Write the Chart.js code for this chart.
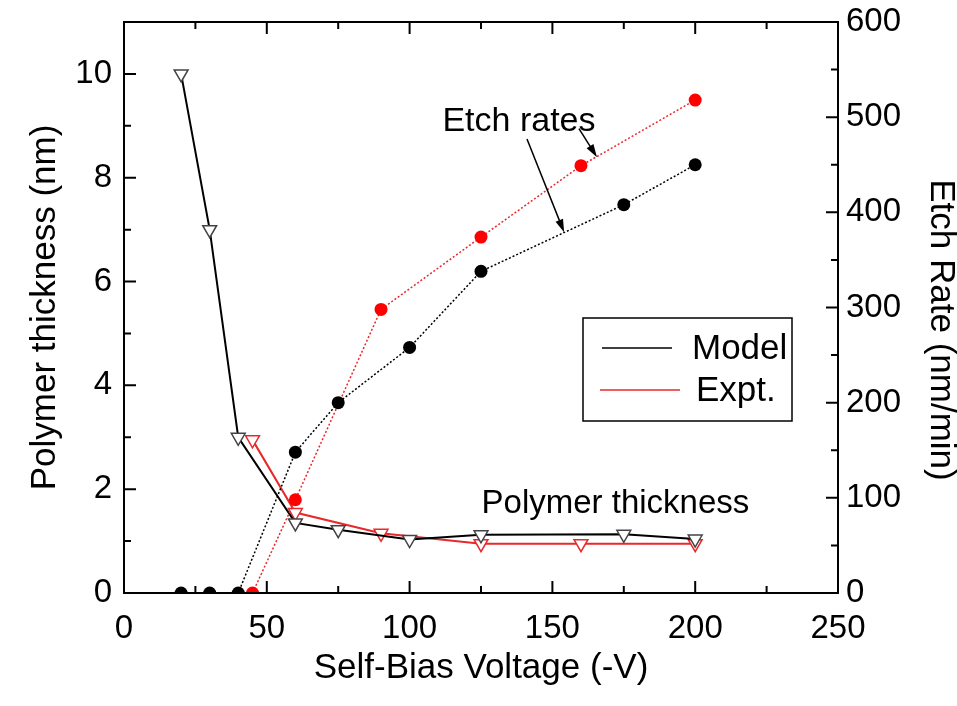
<!DOCTYPE html>
<html>
<head>
<meta charset="utf-8">
<script src="https://cdn.jsdelivr.net/npm/chart.js@4"></script>
<style>
  html, body { margin: 0; padding: 0; background: #fff; }
</style>
</head>
<body>
<canvas id="chart0" width="957" height="706"></canvas>
<script>
// bias voltage (-V) and values
const modelThickX = [20, 30, 40, 60, 75, 100, 125, 175, 200];
const modelThickY = [10, 7, 3, 1.35, 1.22, 1.03, 1.12, 1.13, 1.04];
const exptThickX = [45, 60, 90, 125, 160, 200];
const exptThickY = [2.95, 1.55, 1.15, 0.95, 0.95, 0.95];
const modelEtchX = [20, 30, 40, 60, 75, 100, 125, 175, 200];
const modelEtchY = [0, 0, 0, 148, 200, 258, 338, 408, 450];
const exptEtchX = [45, 60, 90, 125, 160, 200];
const exptEtchY = [0, 98, 298, 374, 449, 518];

const legendLabels = ["Model", "Expt."];
const legendColors = ["#000000", "#e8282b"];

// notes on the plot, in data units (x, right axis for etch, left axis for polymer)
const noteEtch = { text: "Etch rates", x: 111.5, y: 495 };
const notePolymer = { text: "Polymer thickness", x: 125.2, y: 1.71 };
const etchArrows = [
  { x0: 141.1, y0: 477, x1: 154.1, y1: 379 },
  { x0: 159.3, y0: 488, x1: 165.6, y1: 458 },
];

const FONT = "'Liberation Sans', Arial, sans-serif";
const RED = "#e8282b";

function pts(xs, ys) {
  return xs.map((x, i) => ({ x: x, y: ys[i] }));
}

// ticks pointing into the plot, plus the frame
const frameTicks = {
  id: "frameTicks",
  afterDatasetsDraw(chart) {
    const ctx = chart.ctx;
    const a = chart.chartArea;
    const sx = chart.scales.x, sy = chart.scales.y, sy2 = chart.scales.y2;
    ctx.save();
    ctx.strokeStyle = "#000";
    ctx.lineWidth = 2;
    ctx.strokeRect(a.left, a.top, a.right - a.left, a.bottom - a.top);
    ctx.beginPath();
    sx.ticks.forEach((t) => {
      const p = sx.getPixelForValue(t.value);
      const len = t.value % 50 === 0 ? 12 : 7;
      ctx.moveTo(p, a.bottom); ctx.lineTo(p, a.bottom - len);
      ctx.moveTo(p, a.top); ctx.lineTo(p, a.top + len);
    });
    sy.ticks.forEach((t) => {
      const p = sy.getPixelForValue(t.value);
      const len = t.value % 2 === 0 ? 12 : 7;
      ctx.moveTo(a.left, p); ctx.lineTo(a.left + len, p);
    });
    sy2.ticks.forEach((t) => {
      const p = sy2.getPixelForValue(t.value);
      const len = t.value % 100 === 0 ? 12 : 7;
      ctx.moveTo(a.right, p); ctx.lineTo(a.right - len, p);
    });
    ctx.stroke();

    // right axis title
    ctx.fillStyle = "#000";
    ctx.font = "35px " + FONT;
    ctx.textAlign = "center";
    ctx.textBaseline = "middle";
    ctx.translate(941, 330);
    ctx.rotate(Math.PI / 2);
    ctx.fillText("Etch Rate (nm/min)", 0, 0);
    ctx.restore();
  },
};

// text notes, arrows and the boxed legend
const notes = {
  id: "notes",
  afterDatasetsDraw(chart) {
    const ctx = chart.ctx;
    const sx = chart.scales.x, sy = chart.scales.y, sy2 = chart.scales.y2;
    ctx.save();
    ctx.fillStyle = "#000";
    ctx.textAlign = "left";
    ctx.textBaseline = "middle";
    ctx.font = "34px " + FONT;
    ctx.fillText(noteEtch.text, sx.getPixelForValue(noteEtch.x), sy2.getPixelForValue(noteEtch.y));
    ctx.font = "33px " + FONT;
    ctx.fillText(notePolymer.text, sx.getPixelForValue(notePolymer.x), sy.getPixelForValue(notePolymer.y));

    ctx.strokeStyle = "#000";
    ctx.lineWidth = 1.5;
    etchArrows.forEach((ar) => {
      const x0 = sx.getPixelForValue(ar.x0), y0 = sy2.getPixelForValue(ar.y0);
      const x1 = sx.getPixelForValue(ar.x1), y1 = sy2.getPixelForValue(ar.y1);
      const ang = Math.atan2(y1 - y0, x1 - x0);
      ctx.beginPath();
      ctx.moveTo(x0, y0);
      ctx.lineTo(x1 - 8 * Math.cos(ang), y1 - 8 * Math.sin(ang));
      ctx.stroke();
      ctx.beginPath();
      ctx.moveTo(x1, y1);
      ctx.lineTo(x1 - 13 * Math.cos(ang) + 4 * Math.sin(ang), y1 - 13 * Math.sin(ang) - 4 * Math.cos(ang));
      ctx.lineTo(x1 - 13 * Math.cos(ang) - 4 * Math.sin(ang), y1 - 13 * Math.sin(ang) + 4 * Math.cos(ang));
      ctx.closePath();
      ctx.fill();
    });

    // legend box
    ctx.lineWidth = 1.5;
    ctx.strokeRect(583, 318, 209, 103);
    ctx.font = "35px " + FONT;
    legendLabels.forEach((lab, i) => {
      const y = 348 + i * 42;
      ctx.strokeStyle = legendColors[i];
      ctx.lineWidth = 1.5;
      ctx.beginPath();
      ctx.moveTo(i === 0 ? 602 : 600, y);
      ctx.lineTo(i === 0 ? 672 : 680, y);
      ctx.stroke();
      ctx.fillStyle = "#000";
      ctx.fillText(lab, i === 0 ? 692 : 696, y + 1);
    });
    ctx.restore();
  },
};

const ctx = document.getElementById("chart0").getContext("2d");
const myChart = new Chart(ctx, {
  type: "line",
  data: {
    datasets: [
      {
        label: "Model etch rate",
        data: pts(modelEtchX, modelEtchY),
        yAxisID: "y2",
        borderColor: "#000",
        borderWidth: 1.5,
        borderDash: [2, 2],
        pointRadius: 6.5,
        pointBackgroundColor: "#000",
        pointBorderWidth: 0,
      },
      {
        label: "Expt. etch rate",
        data: pts(exptEtchX, exptEtchY),
        yAxisID: "y2",
        borderColor: RED,
        borderWidth: 1.5,
        borderDash: [2, 2],
        pointRadius: 6.5,
        pointBackgroundColor: "#f00",
        pointBorderWidth: 0,
      },
      {
        label: "Model thickness",
        data: pts(modelThickX, modelThickY),
        yAxisID: "y",
        borderColor: "#000",
        borderWidth: 2,
        pointStyle: "triangle",
        rotation: 180,
        pointRadius: 8,
        pointBackgroundColor: "#fff",
        pointBorderColor: "#444",
        pointBorderWidth: 1.5,
      },
      {
        label: "Expt. thickness",
        data: pts(exptThickX, exptThickY),
        yAxisID: "y",
        borderColor: RED,
        borderWidth: 2,
        pointStyle: "triangle",
        rotation: 180,
        pointRadius: 8,
        pointBackgroundColor: "#fff",
        pointBorderColor: RED,
        pointBorderWidth: 1.5,
      },
    ],
  },
  options: {
    responsive: false,
    animation: false,
    devicePixelRatio: 1,
    layout: { padding: { top: 22, left: 0, right: 0, bottom: 0 } },
    plugins: { legend: { display: false }, tooltip: { enabled: false } },
    scales: {
      x: {
        type: "linear",
        position: "bottom",
        min: 0,
        max: 250,
        afterFit(s) { s.height = 113; },
        grid: { display: false, drawTicks: false },
        border: { display: false },
        ticks: {
          stepSize: 25,
          autoSkip: false,
          maxRotation: 0,
          padding: 16,
          color: "#000",
          font: { size: 33, family: FONT },
          callback: (v) => (v % 50 === 0 ? v : ""),
        },
        title: {
          display: true,
          text: "Self-Bias Voltage (-V)",
          color: "#000",
          font: { size: 35, family: FONT },
          padding: { bottom: 17 },
        },
      },
      y: {
        position: "left",
        min: 0,
        max: 11,
        afterFit(s) { s.width = 124; },
        grid: { display: false, drawTicks: false },
        border: { display: false },
        ticks: {
          stepSize: 1,
          autoSkip: false,
          padding: 12,
          color: "#000",
          font: { size: 33, family: FONT, lineHeight: 0.3 },
          callback: (v) => (v % 2 === 0 ? v : ""),
        },
        title: {
          display: true,
          text: "Polymer thickness (nm)",
          color: "#000",
          font: { size: 35, family: FONT },
          padding: { top: 24 },
        },
      },
      y2: {
        position: "right",
        min: 0,
        max: 600,
        afterFit(s) { s.width = 119; },
        grid: { display: false, drawTicks: false },
        border: { display: false },
        ticks: {
          stepSize: 50,
          autoSkip: false,
          padding: 8,
          color: "#000",
          font: { size: 33, family: FONT, lineHeight: 0.3 },
          callback: (v) => (v % 100 === 0 ? v : ""),
        },
      },
    },
  },
  plugins: [frameTicks, notes],
});
</script>
</body>
</html>
